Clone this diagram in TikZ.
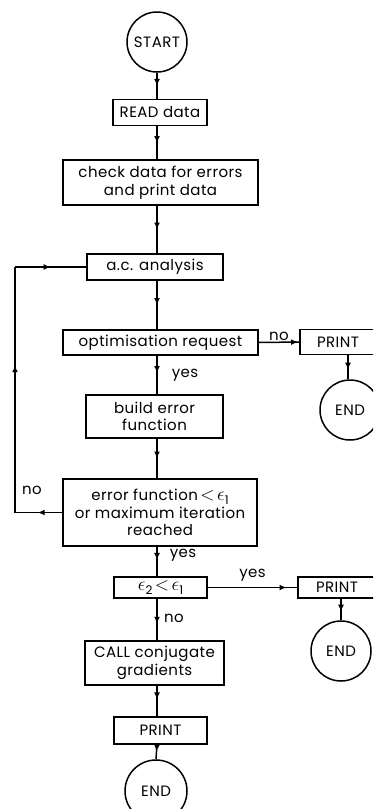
\documentclass[tikz,border=0pt]{standalone}
\usepackage{fontspec}
\usepackage{graphicx}
\setmainfont{Poppins}[LetterSpace=3]
\usetikzlibrary{arrows.meta,decorations.markings}
% lunate epsilon with a text-sized subscript, and a full-size less-than sign
\newcommand\epsi[1]{\scalebox{1.35}{\ensuremath{\epsilon}}\raisebox{-0.5ex}{\fontsize{12}{13}\selectfont #1}}
\newcommand\lessthan{\,\scalebox{1.3}{\ensuremath{<}}\,}
\tikzset{
  txt/.style={font=\fontsize{15}{17.5}\selectfont},
  box/.style={draw, line width=1.5pt, minimum height=#1, inner sep=0pt, align=center, txt},
  box/.default=26pt,
  term/.style={draw, circle, line width=1.5pt, minimum size=60pt, inner sep=0pt, txt},
  flow/.style={line width=1.5pt},
  marrow/.style={flow, decoration={markings, mark=at position #1 with {\arrow{Latex[length=7pt,width=6pt]}}}, postaction={decorate}},
  marrow/.default=0.5,
  lbl/.style={txt, inner sep=1pt}
}
\begin{document}
\begin{tikzpicture}[x=1pt,y=-1pt]
\clip (0,0) rectangle (373,809);
\fill[white] (0,0) rectangle (373,809);

% main column
\node[term] (start) at (157,42) {START};
\node[box, minimum width=94pt] (read) at (160,112.5) {READ data};
\node[box=45pt, minimum width=195pt] (check) at (160.5,182.5) {check data for errors\\and print data};
\node[box, minimum width=136pt] (ac) at (155,267) {a.c. analysis};
\node[box=25pt, minimum width=195pt] (opt) at (160.5,342.5) {optimisation request};
\node[box=43pt, minimum width=137pt] (build) at (154.5,416.5) {build error\\function};
\node[box=67pt, minimum width=194pt] (err) at (160,512.5) {error function\lessthan\epsi{1}\\or maximum iteration\\reached};
\node[box=21pt, minimum width=93pt] (cmp) at (160.5,587.5) {\epsi{2}\lessthan\epsi{1}};
\node[box=44pt, minimum width=139pt] (call) at (154.5,663) {CALL conjugate\\gradients};
\node[box=27pt, minimum width=93pt] (print) at (160.5,730.5) {PRINT};
\node[term, minimum size=62pt] (end) at (156,791) {END};

% right branches
\node[box=25pt, minimum width=76pt] (printa) at (338,342) {PRINT};
\node[term] (enda) at (350,410) {END};
\node[box=21pt, minimum width=78pt] (printb) at (337,587.5) {PRINT};
\node[term] (endb) at (341,651) {END};

% loop corners
\coordinate (lb) at (15,512.5);
\coordinate (lt) at (15,267);

% vertical flow
\draw[marrow] (start.south -| 157,0) -- (157,99);
\draw[marrow] (157,126) -- (157,160);
\draw[marrow] (157,205) -- (157,254);
\draw[marrow] (157,280) -- (157,330);
\draw[marrow=0.45] (157,355) -- (157,395);
\draw[marrow] (157,438) -- (157,479);
\draw[marrow=0.45] (157,546) -- (157,577);
\draw[marrow=0.6] (157,598) -- (157,641);
\draw[marrow=0.45] (157,685) -- (157,717);
\draw[marrow] (157,744) -- (end.north);

% side exits
\draw[marrow=0.97] (opt.east) -- (printa.west) node[lbl, midway, above] {no};
\draw[marrow=0.6] (printa.south -| 348,0) -- (enda.north -| 348,0);
\draw[marrow=0.88] (cmp.east) -- (printb.west) node[lbl, pos=0.5, above=4pt] {yes};
\draw[marrow=0.6] (printb.south -| 341,0) -- (endb.north);

% iteration loop
\draw[marrow=0.52] (err.west) -- (lb);
\draw[marrow=0.6] (lb) -- (lt);
\draw[marrow=0.5] (lt) -- (ac.west);

% branch labels
\node[lbl] (lno) at (32,490) {no};
\node[lbl] (lyes1) at (185,375) {yes};
\node[lbl] (lyes2) at (183,555) {yes};
\node[lbl] (lno2) at (174,618) {no};
\end{tikzpicture}
\end{document}
